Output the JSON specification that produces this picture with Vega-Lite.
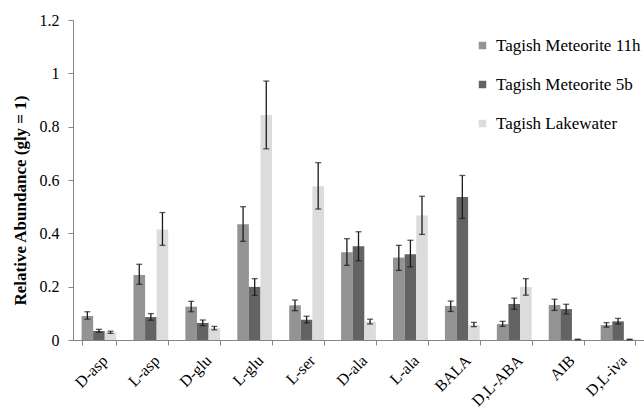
{
  "$schema": "https://vega.github.io/schema/vega-lite/v6.json",
  "autosize": "none",
  "width": 571,
  "height": 320,
  "padding": {"left": 73, "top": 20, "right": 0, "bottom": 70},
  "background": "white",
  "config": {
    "font": "Liberation Serif",
    "view": {"stroke": null},
    "legend": {"labelFont": "Liberation Serif", "titleFont": "Liberation Serif"},
    "axis": {"grid": false, "domainColor": "#868686", "tickColor": "#868686", "labelColor": "#000", "titleColor": "#000", "labelFont": "Liberation Serif", "titleFont": "Liberation Serif"}
  },
  "data": {
    "values": [
      {"aa": "D-asp", "sample": "Tagish Meteorite 11h", "value": 0.09, "lo": 0.078, "hi": 0.106},
      {"aa": "D-asp", "sample": "Tagish Meteorite 5b", "value": 0.034, "lo": 0.029, "hi": 0.04},
      {"aa": "D-asp", "sample": "Tagish Lakewater", "value": 0.029, "lo": 0.025, "hi": 0.033},
      {"aa": "L-asp", "sample": "Tagish Meteorite 11h", "value": 0.244, "lo": 0.209, "hi": 0.284},
      {"aa": "L-asp", "sample": "Tagish Meteorite 5b", "value": 0.086, "lo": 0.074, "hi": 0.099},
      {"aa": "L-asp", "sample": "Tagish Lakewater", "value": 0.414, "lo": 0.355, "hi": 0.478},
      {"aa": "D-glu", "sample": "Tagish Meteorite 11h", "value": 0.125, "lo": 0.106, "hi": 0.145},
      {"aa": "D-glu", "sample": "Tagish Meteorite 5b", "value": 0.064, "lo": 0.054, "hi": 0.075},
      {"aa": "D-glu", "sample": "Tagish Lakewater", "value": 0.045, "lo": 0.038, "hi": 0.051},
      {"aa": "L-glu", "sample": "Tagish Meteorite 11h", "value": 0.434, "lo": 0.37, "hi": 0.5},
      {"aa": "L-glu", "sample": "Tagish Meteorite 5b", "value": 0.199, "lo": 0.167, "hi": 0.23},
      {"aa": "L-glu", "sample": "Tagish Lakewater", "value": 0.844, "lo": 0.717, "hi": 0.971},
      {"aa": "L-ser", "sample": "Tagish Meteorite 11h", "value": 0.13, "lo": 0.11, "hi": 0.15},
      {"aa": "L-ser", "sample": "Tagish Meteorite 5b", "value": 0.076, "lo": 0.064, "hi": 0.089},
      {"aa": "L-ser", "sample": "Tagish Lakewater", "value": 0.577, "lo": 0.491, "hi": 0.665},
      {"aa": "D-ala", "sample": "Tagish Meteorite 11h", "value": 0.329, "lo": 0.28, "hi": 0.38},
      {"aa": "D-ala", "sample": "Tagish Meteorite 5b", "value": 0.352, "lo": 0.297, "hi": 0.406},
      {"aa": "D-ala", "sample": "Tagish Lakewater", "value": 0.069, "lo": 0.06, "hi": 0.078},
      {"aa": "L-ala", "sample": "Tagish Meteorite 11h", "value": 0.309, "lo": 0.261, "hi": 0.355},
      {"aa": "L-ala", "sample": "Tagish Meteorite 5b", "value": 0.322, "lo": 0.274, "hi": 0.374},
      {"aa": "L-ala", "sample": "Tagish Lakewater", "value": 0.467, "lo": 0.396, "hi": 0.539},
      {"aa": "BALA", "sample": "Tagish Meteorite 11h", "value": 0.128, "lo": 0.107, "hi": 0.146},
      {"aa": "BALA", "sample": "Tagish Meteorite 5b", "value": 0.536, "lo": 0.456, "hi": 0.617},
      {"aa": "BALA", "sample": "Tagish Lakewater", "value": 0.056, "lo": 0.05, "hi": 0.066},
      {"aa": "D,L-ABA", "sample": "Tagish Meteorite 11h", "value": 0.06, "lo": 0.051, "hi": 0.07},
      {"aa": "D,L-ABA", "sample": "Tagish Meteorite 5b", "value": 0.135, "lo": 0.115, "hi": 0.157},
      {"aa": "D,L-ABA", "sample": "Tagish Lakewater", "value": 0.199, "lo": 0.168, "hi": 0.23},
      {"aa": "AIB", "sample": "Tagish Meteorite 11h", "value": 0.131, "lo": 0.111, "hi": 0.153},
      {"aa": "AIB", "sample": "Tagish Meteorite 5b", "value": 0.116, "lo": 0.098, "hi": 0.134},
      {"aa": "AIB", "sample": "Tagish Lakewater", "value": 0.002, "lo": 0.001, "hi": 0.003},
      {"aa": "D,L-iva", "sample": "Tagish Meteorite 11h", "value": 0.056, "lo": 0.048, "hi": 0.065},
      {"aa": "D,L-iva", "sample": "Tagish Meteorite 5b", "value": 0.07, "lo": 0.06, "hi": 0.081},
      {"aa": "D,L-iva", "sample": "Tagish Lakewater", "value": 0.002, "lo": 0.001, "hi": 0.003}
    ]
  },
  "encoding": {
    "x": {
      "field": "aa", "type": "nominal", "sort": null,
      "scale": {"paddingInner": 0.33, "paddingOuter": 0.165},
      "axis": {"title": null, "labelAngle": -45, "labelFontSize": 16, "tickBand": "extent", "tickSize": 5, "labelPadding": 7}
    },
    "xOffset": {"field": "sample", "type": "nominal", "sort": ["Tagish Meteorite 11h", "Tagish Meteorite 5b", "Tagish Lakewater"], "scale": {"paddingInner": 0, "paddingOuter": 0}}
  },
  "layer": [
    {
      "mark": {"type": "bar"},
      "encoding": {
        "y": {
          "field": "value", "type": "quantitative",
          "scale": {"domain": [0, 1.2], "nice": false},
          "axis": {"title": "Relative Abundance (gly = 1)", "titleFontSize": 17, "titleFontWeight": "bold", "titleY": 180, "labelFontSize": 16, "values": [0, 0.2, 0.4, 0.6, 0.8, 1, 1.2], "format": "~g", "tickSize": 5, "labelPadding": 9, "titlePadding": 10}
        },
        "color": {
          "field": "sample", "type": "nominal",
          "sort": ["Tagish Meteorite 11h", "Tagish Meteorite 5b", "Tagish Lakewater"],
          "scale": {"domain": ["Tagish Meteorite 11h", "Tagish Meteorite 5b", "Tagish Lakewater"], "range": ["#939393", "#636363", "#dcdcdc"]},
          "legend": {"title": null, "orient": "none", "legendX": 401, "legendY": 17, "symbolType": "square", "symbolSize": 56, "symbolStrokeWidth": 0, "labelFontSize": 17, "labelFont": "Liberation Serif", "rowPadding": 21, "labelOffset": 5, "labelColor": "#000"}
        }
      }
    },
    {
      "mark": {"type": "rule", "color": "#1a1a1a", "strokeWidth": 1.3},
      "encoding": {
        "y": {"field": "lo", "type": "quantitative"},
        "y2": {"field": "hi"}
      }
    },
    {
      "mark": {"type": "tick", "color": "#1a1a1a", "size": 6, "thickness": 1.3, "orient": "horizontal"},
      "encoding": {"y": {"field": "lo", "type": "quantitative"}}
    },
    {
      "mark": {"type": "tick", "color": "#1a1a1a", "size": 6, "thickness": 1.3, "orient": "horizontal"},
      "encoding": {"y": {"field": "hi", "type": "quantitative"}}
    }
  ]
}
